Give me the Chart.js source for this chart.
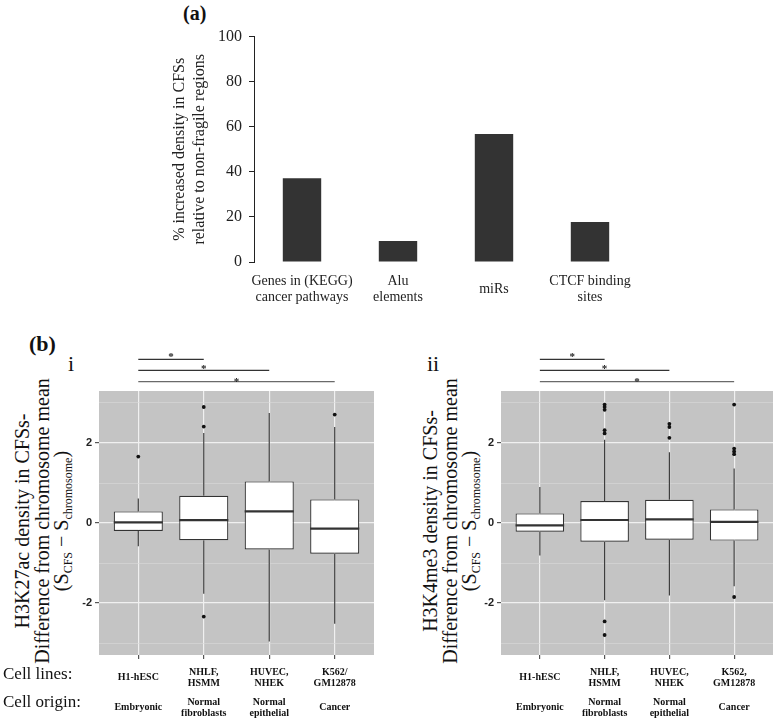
<!DOCTYPE html>
<html>
<head>
<meta charset="utf-8">
<script src="https://cdn.jsdelivr.net/npm/chart.js@4.4.1/dist/chart.umd.min.js"></script>
<style>
	body { margin: 0; background: #fff; }
	#page { position: relative; width: 777px; height: 718px; overflow: hidden; font-family: "Liberation Serif", "Times New Roman", serif; color: #111; }
	#page canvas { position: absolute; }
	.lbl { position: absolute; white-space: nowrap; line-height: 1; }
	.ytitle { position: absolute; white-space: nowrap; text-align: center; font-size: 20px; line-height: 19.5px; transform: translate(-50%, -50%) rotate(-90deg); }
	.ytitle sub { font-size: 12px; line-height: 0; vertical-align: -4px; }
</style>
</head>
<body>
<div id="page">
	<div class="lbl" style="left:183px; top:3px; font-size:20px; font-weight:bold;">(a)</div>
	<canvas id="chartA" width="500" height="300" style="left:150px; top:20px;"></canvas>

	<div class="lbl" style="left:29px; top:333px; font-size:22px; font-weight:bold;">(b)</div>
	<div class="lbl" style="left:68px; top:353px; font-size:22px;">i</div>
	<div class="lbl" style="left:427px; top:353px; font-size:22px;">ii</div>

	<div class="ytitle" style="left:42px; top:521px;">H3K27ac density in CFSs-<br>Difference from chromosome mean<br>(S<sub>CFS</sub> &minus; S<sub>chromosome</sub>)</div>
	<div class="ytitle" style="left:450px; top:521px;">H3K4me3 density in CFSs-<br>Difference from chromosome mean<br>(S<sub>CFS</sub> &minus; S<sub>chromosome</sub>)</div>

	<canvas id="chartK27" width="310" height="378" style="left:70px; top:340px;"></canvas>
	<canvas id="chartK4" width="306" height="378" style="left:471px; top:340px;"></canvas>

	<div class="lbl" style="left:3px; top:665px; font-size:17px;">Cell lines:</div>
	<div class="lbl" style="left:3px; top:693px; font-size:17px;">Cell origin:</div>
</div>

<script>
// (a) increased density of features in CFSs
var featureLabels = [["Genes in (KEGG)", "cancer pathways"], ["Alu", "elements"], "miRs", ["CTCF binding", "sites"]];
var densityIncrease = [37.2, 9.3, 56.8, 17.8];

// (b) cell line groups, shared by both box plots
var cellLinesK27 = ["H1-hESC", ["NHLF,", "HSMM"], ["HUVEC,", "NHEK"], ["K562/", "GM12878"]];
var cellLinesK4 = ["H1-hESC", ["NHLF,", "HSMM"], ["HUVEC,", "NHEK"], ["K562,", "GM12878"]];
var cellOrigins = ["Embryonic", ["Normal", "fibroblasts"], ["Normal", "epithelial"], "Cancer"];
var yTicksB = [-3, -2, -1, 0, 1, 2, 3];
var comparisons = [[0, 1], [0, 2], [0, 3]];

// (b-i) H3K27ac
var k27Q1 = [-0.2, -0.43, -0.66, -0.77];
var k27Median = [0.015, 0.07, 0.29, -0.14];
var k27Q3 = [0.29, 0.68, 1.04, 0.59];
var k27WhiskerLow = [-0.58, -1.77, -2.96, -2.52];
var k27WhiskerHigh = [0.61, 2.25, 2.75, 2.4];
var k27Outliers = [[1.66], [2.9, 2.41, -2.34], [], [2.71]];

// (b-ii) H3K4me3
var k4Q1 = [-0.22, -0.47, -0.42, -0.44];
var k4Median = [-0.06, 0.075, 0.09, 0.03];
var k4Q3 = [0.24, 0.55, 0.58, 0.34];
var k4WhiskerLow = [-0.81, -1.93, -1.81, -1.58];
var k4WhiskerHigh = [0.9, 2.08, 1.77, 1.36];
var k4Outliers = [[], [2.96, 2.9, 2.83, 2.32, 2.24, -2.46, -2.8], [2.48, 2.4, 2.13], [2.96, 1.86, 1.79, 1.72, -1.85]];

var serif = "'Liberation Serif', 'Times New Roman', serif";
var sans = "'Liberation Sans', Arial, sans-serif";

new Chart(document.getElementById("chartA"), {
	type: "bar",
	data: {
		labels: featureLabels,
		datasets: [{
			data: densityIncrease,
			backgroundColor: "#333333",
			barPercentage: 0.4,
			categoryPercentage: 1
		}]
	},
	options: {
		responsive: false,
		animation: false,
		layout: { padding: { top: 16, right: 12, left: 0, bottom: 0 } },
		plugins: { legend: { display: false }, tooltip: { enabled: false } },
		scales: {
			x: {
				grid: { display: false },
				border: { display: false },
				ticks: {
					color: "#222",
					font: { family: serif, size: 14, lineHeight: 1.15 },
					crossAlign: "center",
					padding: 11,
					maxRotation: 0,
					autoSkip: false
				},
				afterFit: function(scale) { scale.height = 58; }
			},
			y: {
				min: 0,
				max: 100,
				ticks: { stepSize: 20, color: "#222", font: { family: serif, size: 16 }, padding: 7 },
				grid: { drawOnChartArea: false, tickLength: 5, tickColor: "#222" },
				border: { color: "#222", width: 1 },
				title: {
					display: true,
					text: ["% increased density in CFSs", "relative to non-fragile regions"],
					color: "#222",
					font: { family: serif, size: 16, lineHeight: 1.25 },
					padding: { top: 20, bottom: 0 }
				},
				afterFit: function(scale) { scale.width = 104; }
			}
		}
	}
});

// whiskers, medians, grey panel and significance bars for a box plot
function boxPlugin(q1, median, q3, whiskerLow, whiskerHigh) {
	return {
		id: "boxExtras",
		beforeDraw: function(chart) {
			var a = chart.chartArea;
			chart.ctx.save();
			chart.ctx.fillStyle = "#c4c4c4";
			chart.ctx.fillRect(a.left, a.top, a.right - a.left, a.bottom - a.top);
			chart.ctx.restore();
		},
		afterDatasetsDraw: function(chart) {
			var ctx = chart.ctx, x = chart.scales.x, y = chart.scales.y;
			var half = (x.getPixelForValue(1) - x.getPixelForValue(0)) * 0.75 / 2;
			ctx.save();
			ctx.strokeStyle = "#333";
			for (var i = 0; i < median.length; i++) {
				var px = x.getPixelForValue(i);
				ctx.lineWidth = 1.1;
				ctx.beginPath();
				ctx.moveTo(px, y.getPixelForValue(q3[i]));
				ctx.lineTo(px, y.getPixelForValue(whiskerHigh[i]));
				ctx.moveTo(px, y.getPixelForValue(q1[i]));
				ctx.lineTo(px, y.getPixelForValue(whiskerLow[i]));
				ctx.stroke();
				ctx.lineWidth = 2.2;
				ctx.beginPath();
				ctx.moveTo(px - half, y.getPixelForValue(median[i]));
				ctx.lineTo(px + half, y.getPixelForValue(median[i]));
				ctx.stroke();
			}
			ctx.restore();
		},
		afterDraw: function(chart) {
			var ctx = chart.ctx, x = chart.scales.x, top = chart.chartArea.top;
			var offsets = [31.7, 20.7, 9.3];
			var starShift = [0.5, 2, 3];
			var lineColors = ["#333", "#333", "#6a6a6a"];
			ctx.save();
			ctx.fillStyle = "#222";
			ctx.lineWidth = 1.2;
			ctx.font = "bold 11px " + serif;
			ctx.textAlign = "center";
			ctx.textBaseline = "alphabetic";
			for (var i = 0; i < comparisons.length; i++) {
				var x0 = x.getPixelForValue(comparisons[i][0]);
				var x1 = x.getPixelForValue(comparisons[i][1]);
				var ly = top - offsets[i];
				ctx.strokeStyle = lineColors[i];
				ctx.beginPath();
				ctx.moveTo(x0, ly);
				ctx.lineTo(x1, ly);
				ctx.stroke();
				ctx.fillText("*", (x0 + x1) / 2, ly + starShift[i]);
			}
			ctx.restore();
		}
	};
}

function makeBoxChart(id, lines, q1, median, q3, whiskerLow, whiskerHigh, outliers, yWidth, rightPad) {
	var boxes = [];
	var points = [];
	for (let i = 0; i < q1.length; i++) {
		boxes.push({ x: i, y: [q1[i], q3[i]] });
		for (let j = 0; j < outliers[i].length; j++) {
			points.push({ x: i, y: outliers[i][j] });
		}
	}
	var categoryTicks = function(scale) {
		scale.ticks = lines.map(function(l, i) { return { value: i }; });
	};
	return new Chart(document.getElementById(id), {
		type: "bar",
		data: {
			datasets: [{
				type: "scatter",
				data: points,
				pointRadius: 1.9,
				pointBorderWidth: 0,
				backgroundColor: "#111"
			}, {
				type: "bar",
				data: boxes,
				backgroundColor: "#ffffff",
				borderColor: "#333",
				borderWidth: 1.2,
				borderSkipped: false,
				barPercentage: 0.75,
				categoryPercentage: 1
			}]
		},
		options: {
			responsive: false,
			animation: false,
			layout: { padding: { top: 51, right: rightPad, left: 0, bottom: 0 } },
			plugins: { legend: { display: false }, tooltip: { enabled: false } },
			scales: {
				x: {
					type: "linear",
					min: -0.6,
					max: 3.6,
					offset: false,
					weight: 0,
					afterBuildTicks: categoryTicks,
					grid: { color: "#f0f0f0", lineWidth: 1.2, offset: false, tickLength: 4, tickColor: "#555" },
					border: { display: false },
					ticks: {
						callback: function(v) { return lines[v]; },
						color: "#111",
						font: { family: serif, size: 10, weight: "bold", lineHeight: 1.17 },
						crossAlign: "center",
						padding: 13,
						maxRotation: 0,
						autoSkip: false
					},
					afterFit: function(scale) { scale.height = 35; }
				},
				origin: {
					type: "linear",
					position: "bottom",
					axis: "x",
					min: -0.6,
					max: 3.6,
					offset: false,
					weight: 1,
					afterBuildTicks: categoryTicks,
					grid: { display: false },
					border: { display: false },
					ticks: {
						callback: function(v) { return cellOrigins[v]; },
						color: "#111",
						font: { family: serif, size: 10, weight: "bold", lineHeight: 1.15 },
						crossAlign: "center",
						padding: 4,
						maxRotation: 0,
						autoSkip: false
					},
					afterFit: function(scale) { scale.height = 28; }
				},
				y: {
					min: -3.3,
					max: 3.3,
					afterBuildTicks: function(scale) {
						scale.ticks = yTicksB.map(function(v) { return { value: v }; });
					},
					grid: {
						color: function(c) { return c.tick.value % 2 === 0 ? "#f0f0f0" : "#dadada"; },
						lineWidth: function(c) { return c.tick.value % 2 === 0 ? 1.2 : 0.6; },
						tickColor: function(c) { return c.tick.value % 2 === 0 ? "#555" : "rgba(0,0,0,0)"; },
						tickLength: 4
					},
					border: { display: false },
					ticks: {
						callback: function(v) { return v % 2 === 0 ? String(v) : ""; },
						color: "#222",
						font: { family: sans, size: 11, weight: "bold" },
						padding: 3
					},
					afterFit: function(scale) { scale.width = yWidth; }
				}
			}
		},
		plugins: [boxPlugin(q1, median, q3, whiskerLow, whiskerHigh)]
	});
}

makeBoxChart("chartK27", cellLinesK27, k27Q1, k27Median, k27Q3, k27WhiskerLow, k27WhiskerHigh, k27Outliers, 29, 6);
makeBoxChart("chartK4", cellLinesK4, k4Q1, k4Median, k4Q3, k4WhiskerLow, k4WhiskerHigh, k4Outliers, 30, 0);
</script>
</body>
</html>
